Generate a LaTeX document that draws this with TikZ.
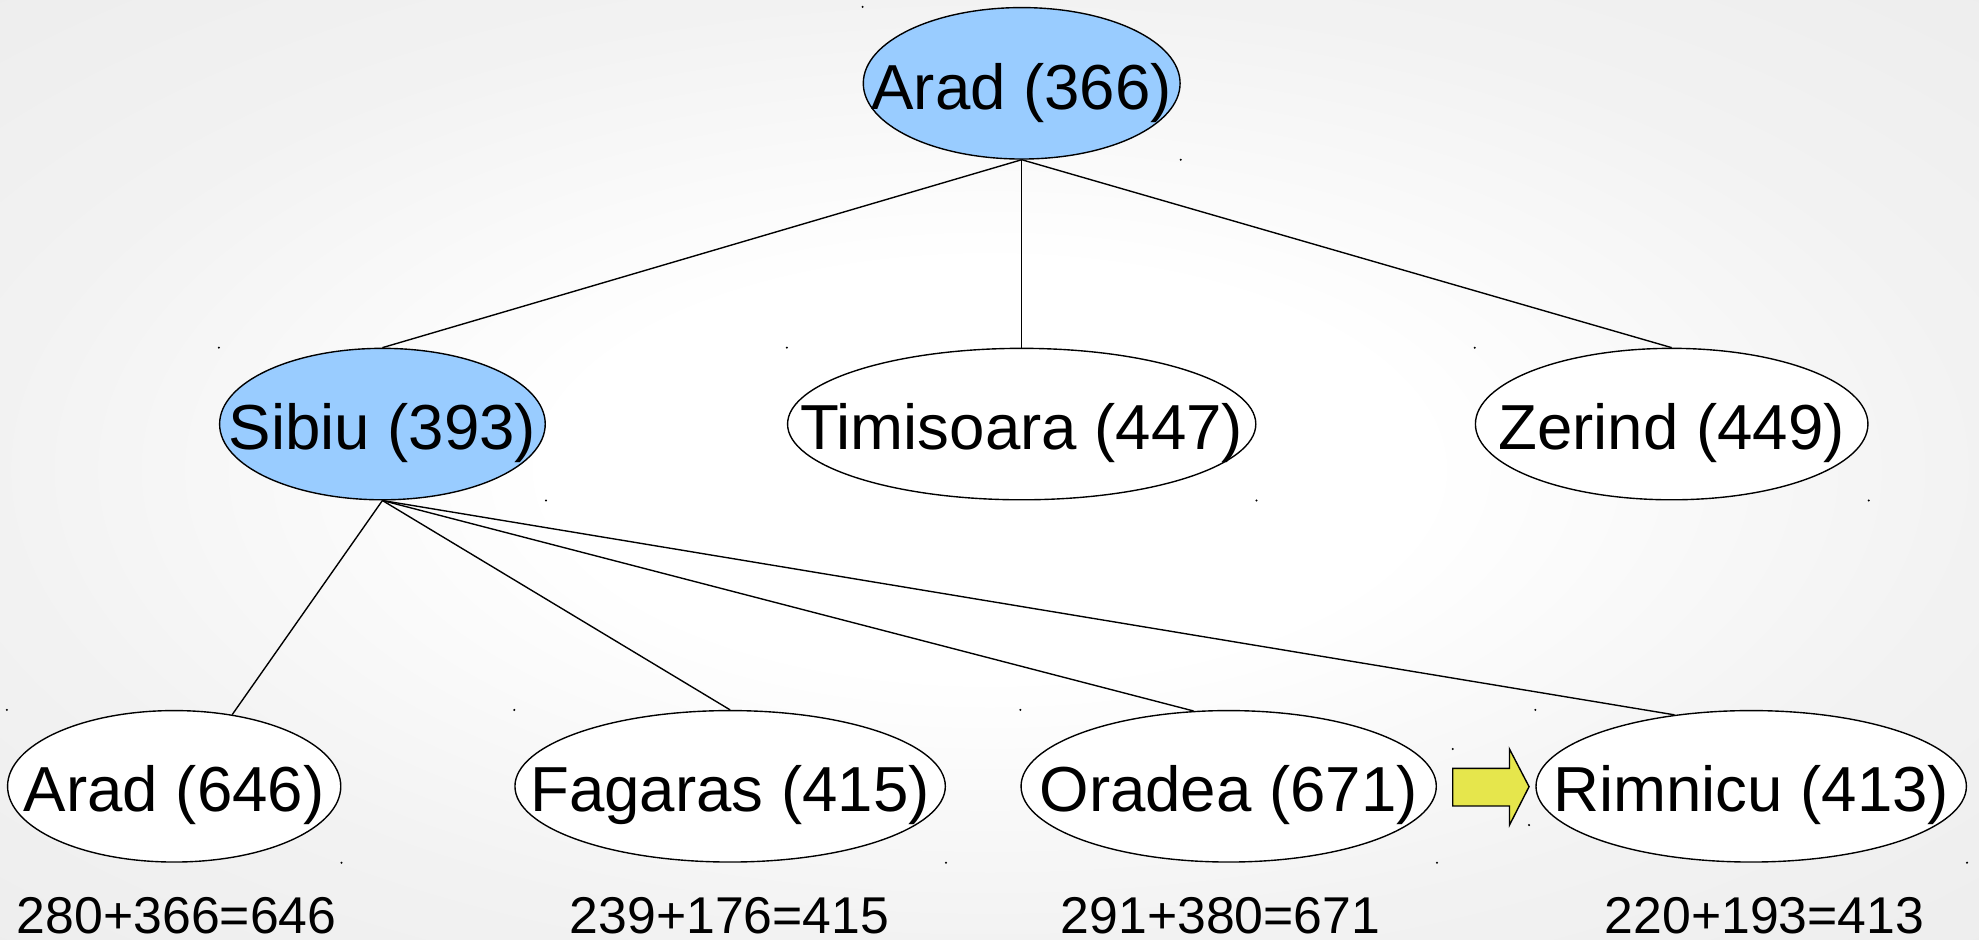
\documentclass[tikz,border=0pt]{standalone}
\usepackage{fontspec}
\setmainfont{Liberation Sans}
\usetikzlibrary{shapes.geometric}
\definecolor{opened}{RGB}{153,204,255}
\definecolor{pointer}{RGB}{230,230,76}
\pgfdeclareradialshading{paper}{\pgfpoint{0bp}{0bp}}{%
  color(0bp)=(white); color(11bp)=(white); color(25bp)=(black!5);
  color(36bp)=(black!7); color(50bp)=(black!7)}
\begin{document}
\begin{tikzpicture}[x=1pt, y=-1pt,
  city/.style={ellipse, draw=black, line width=1.1pt, fill=white,
    minimum height=120pt, inner sep=0pt},
  expanded/.style={city, fill=opened},
  cityname/.style={font=\fontsize{50.4}{60}\selectfont, inner sep=0pt, anchor=base},
  cost/.style={font=\fontsize{41}{50}\selectfont, inner sep=0pt, anchor=base,
    text depth=0pt},
  edge/.style={draw=black, line width=1.1pt},
  handle/.style={fill=black}]

% page background
\shade[shading=paper] (0,0) rectangle (1568,744);
\useasboundingbox (0,0) rectangle (1568,744);

% search tree nodes
\node[expanded, minimum width=251pt] (a0) at (809.5,66) {};
\node[expanded, minimum width=258pt] (s)  at (303,336)  {};
\node[city, minimum width=371pt] (t)  at (809.5,336) {};
\node[city, minimum width=311pt] (z)  at (1324.5,336) {};
\node[city, minimum width=264pt] (a1) at (138,623) {};
\node[city, minimum width=341pt] (f)  at (578.5,623) {};
\node[city, minimum width=329pt] (o)  at (973.5,623) {};
\node[city, minimum width=341pt] (r)  at (1387.5,623) {};

% city names with heuristic values
\node[cityname] (a0t) at (809.5,87)  {Arad (366)};
\node[cityname] (st)  at (303,356)   {Sibiu (393)};
\node[cityname] (tt)  at (809.5,356) {Timisoara (447)};
\node[cityname] (zt)  at (1324.5,356) {Zerind (449)};
\node[cityname] (a1t) at (138,643)   {Arad (646)};
\node[cityname] (ft)  at (578.5,643) {Fagaras (415)};
\node[cityname] (ot)  at (973.5,643) {Oradea (671)};
\node[cityname] (rt)  at (1387.5,643) {Rimnicu (413)};

% path cost + heuristic
\node[cost] (a1c) at (140,739.5)  {280+366=646};
\node[cost] (fc)  at (578,739.5)  {239+176=415};
\node[cost] (oc)  at (967,739.5)  {291+380=671};
\node[cost] (rc)  at (1398,739.5) {220+193=413};

% tree edges
\draw[edge] (a0.south) -- (s.north);
\draw[edge] (a0.south) -- (t.north);
\draw[edge] (a0.south) -- (z.north);
\draw[edge] (s.south) -- (a1.51);
\draw[edge] (s.south) -- (f.north);
\draw[edge] (s.south) -- (o.115);
\draw[edge] (s.south) -- (r.137);

% next node to expand
\draw[line width=1.1pt, fill=pointer, line join=miter]
  (1151,608.8) -- (1196,608.8) -- (1196,593.5) -- (1211.5,623.3)
  -- (1196,653.7) -- (1196,638.6) -- (1151,638.6) -- cycle;

% selection handles at bounding box corners
\foreach \n in {a0,s,t,z,a1,f,o,r}{
  \fill[handle] (\n.west |- \n.north) circle (0.9);
  \fill[handle] (\n.east |- \n.south) circle (0.9);
}
\fill[handle] (1151,593.5) circle (0.9);
\fill[handle] (1211.5,653.7) circle (0.9);
\end{tikzpicture}
\end{document}
